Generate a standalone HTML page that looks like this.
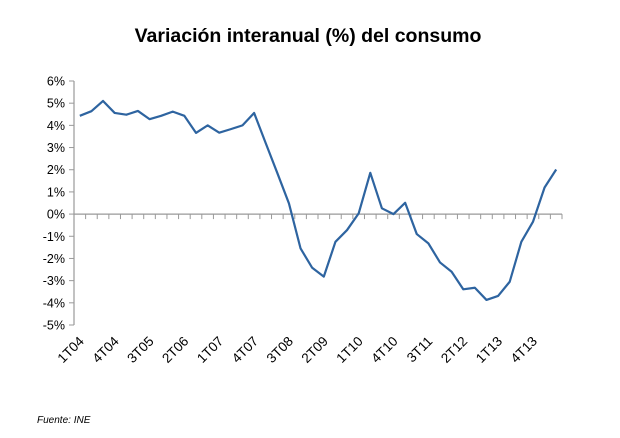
<!DOCTYPE html>
<html><head><meta charset="utf-8"><style>
body{margin:0;background:#fff;}
svg{display:block;font-family:"Liberation Sans",sans-serif;}
</style></head><body>
<svg width="620" height="438">
<text x="308" y="42" text-anchor="middle" font-size="19.5" font-weight="bold" fill="#000">Variación interanual (%) del consumo</text>
<g id="yaxis"></g>
<g id="xaxis"></g>
<g id="series"></g>
<text x="37" y="423" font-size="10" font-style="italic" fill="#000">Fuente:  INE</text>
</svg>
<script>
const categories=["1T04","2T04","3T04","4T04","1T05","2T05","3T05","4T05","1T06","2T06","3T06","4T06","1T07","2T07","3T07","4T07","1T08","2T08","3T08","4T08","1T09","2T09","3T09","4T09","1T10","2T10","3T10","4T10","1T11","2T11","3T11","4T11","1T12","2T12","3T12","4T12","1T13","2T13","3T13","4T13","1T14","2T14"];
const values=[4.43,4.64,5.1,4.56,4.48,4.65,4.28,4.43,4.62,4.43,3.66,4.0,3.67,3.83,4.0,4.56,3.2,1.85,0.48,-1.55,-2.42,-2.82,-1.25,-0.72,0.03,1.86,0.26,0.0,0.51,-0.9,-1.32,-2.18,-2.6,-3.39,-3.32,-3.87,-3.69,-3.05,-1.25,-0.35,1.2,2.01];
const yTicks=[6,5,4,3,2,1,0,-1,-2,-3,-4,-5];
const labelEvery=3;
const NS="http://www.w3.org/2000/svg";
const x0=74,x1=562,yTop=81,yBot=325,yMax=6,yMin=-5;
const step=(x1-x0)/categories.length;
function xs(i){return x0+step*(i+0.5);}
function ys(v){return yTop+(yMax-v)/(yMax-yMin)*(yBot-yTop);}
function mk(t,a,p){const e=document.createElementNS(NS,t);for(const k in a)e.setAttribute(k,a[k]);p.appendChild(e);return e;}
const ya=document.getElementById('yaxis'),xa=document.getElementById('xaxis'),se=document.getElementById('series');
const yl=mk('line',{x1:x0,x2:x0,y1:yTop,y2:yBot,stroke:'#999','stroke-width':1.2},ya);


yTicks.forEach(v=>{
  const t=mk('line',{x1:x0-5,x2:x0,y1:ys(v),y2:ys(v),stroke:'#999','stroke-width':1},ya);
  
  
  const l=mk('text',{x:x0-9,y:ys(v)+4.5,'text-anchor':'end','font-size':12.5,fill:'#000'},ya);
  l.textContent=v+'%';
  
  
});
const xl=mk('line',{x1:x0,x2:x1,y1:ys(0),y2:ys(0),stroke:'#999','stroke-width':1.2},xa);


for(let i=0;i<=categories.length;i++){
  const x=x0+step*i;
  const t=mk('line',{x1:x,x2:x,y1:ys(0),y2:ys(0)+5,stroke:'#999','stroke-width':1},xa);
  
  
}
categories.forEach((c,i)=>{
  if(i%labelEvery!==0)return;
  const x=xs(i)+5,y=yBot+17;
  const l=mk('text',{x:x,y:y,'text-anchor':'end','font-size':13.5,fill:'#000',transform:`rotate(-45 ${x} ${y})`},xa);
  l.textContent=c;
  
  
});
const pl=mk('polyline',{points:values.map((v,i)=>xs(i)+','+ys(v)).join(' '),fill:'none',stroke:'#2e64a0','stroke-width':2.2,'stroke-linejoin':'round'},se);


</script>
</body></html>
